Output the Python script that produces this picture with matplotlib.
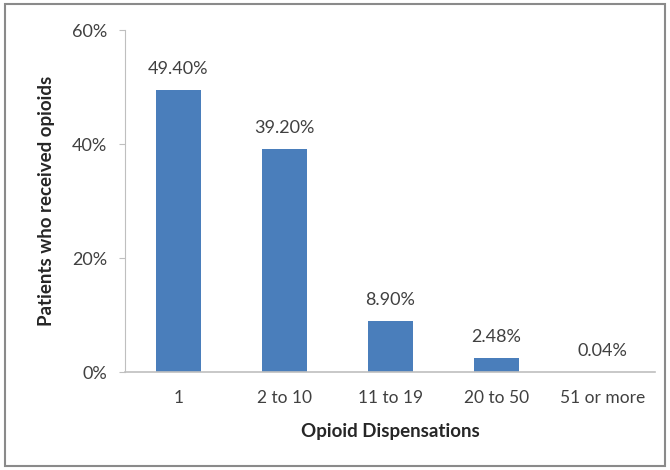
import matplotlib
matplotlib.use("Agg")
import matplotlib.pyplot as plt
from matplotlib.patches import Rectangle
from matplotlib.ticker import PercentFormatter

categories = ["1", "2 to 10", "11 to 19", "20 to 50", "51 or more"]
values = [49.40, 39.20, 8.90, 2.48, 0.04]
labels = ["49.40%", "39.20%", "8.90%", "2.48%", "0.04%"]
yticks = [0, 20, 40, 60]

plt.rcParams['font.family'] = ['Lato', 'DejaVu Sans']
txt = '#404040'

fig = plt.figure(figsize=(6.7, 4.7), dpi=100)
fig.patches.append(Rectangle((0.008, 0.008), 0.984, 0.984, transform=fig.transFigure,
                             fill=False, edgecolor='#8a8a8a', linewidth=1.5))
ax = fig.add_axes([0.187, 0.2085, 0.791, 0.7275])
x = range(len(categories))
ax.bar(x, values, width=0.42, color='#4a7ebb')
for xi, v, l in zip(x, values, labels):
    ax.text(xi, v + 2.3, l, ha='center', va='bottom', fontsize=13, color=txt)
ax.set_xlim(-0.5, len(categories) - 0.5)
ax.set_ylim(0, 60)
ax.set_yticks(yticks)
ax.yaxis.set_major_formatter(PercentFormatter(decimals=0))
ax.set_xticks(list(x))
ax.set_xticklabels(categories)
for s in ['top', 'right']:
    ax.spines[s].set_visible(False)
ax.spines['left'].set_color('#bfbfbf')
ax.spines['bottom'].set_color('#bfbfbf')
ax.spines['bottom'].set_linewidth(1.2)
ax.tick_params(axis='y', length=4, color='#bfbfbf', labelsize=13, labelcolor=txt, pad=9)
ax.tick_params(axis='x', length=0, labelsize=12.5, labelcolor=txt, pad=13)
ax.set_xlabel('Opioid Dispensations', fontsize=13.5, fontweight='bold', color='#262626', labelpad=12)
ax.set_ylabel('Patients who received opioids', fontsize=13.5, fontweight='bold', color='#262626', labelpad=12)
fig.savefig('out.png', dpi=100)
